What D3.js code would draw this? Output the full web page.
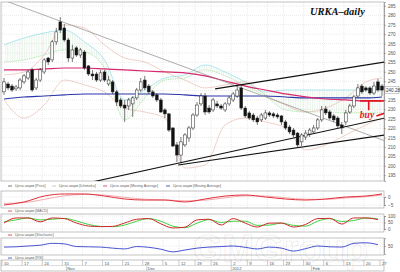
<!DOCTYPE html>
<html>
<head>
<meta charset="utf-8">
<script src="https://cdn.jsdelivr.net/npm/d3@7"></script>
<style>
  body { margin: 0; background: #fff; }
  svg { display: block; font-family: "Liberation Sans", Arial, sans-serif; }
</style>
</head>
<body>
<div class="chartContainer"></div>
<script>
// daily candles, Oct 10 2011 .. end of Feb 2012
const open = [239.3, 243.5, 242.4, 240.9, 241.4, 244.6, 246.7, 251.0, 241.4, 245.6,
  249.9, 257.3, 256.3, 265.9, 276.5, 273.3, 266.9, 257.3, 262.7, 258.9,
  260.5, 253.1, 248.8, 248.8, 245.6, 249.9, 243.5, 244.6, 239.3, 235.0,
  232.3, 231.8, 232.9, 236.1, 240.3, 245.6, 242.4, 239.3, 237.7, 235.0,
  229.7, 227.6, 220.1, 211.1, 205.7, 211.1, 214.8, 220.1, 227.0, 232.9,
  237.1, 230.7, 229.7, 232.9, 231.8, 229.7, 232.9, 235.0, 237.1, 241.4,
  230.7, 228.1, 227.0, 225.4, 224.4, 225.4, 228.1, 227.6, 227.0, 226.5,
  223.3, 220.6, 219.0, 217.4, 212.7, 215.3, 216.9, 218.0, 220.1, 224.4,
  230.2, 228.6, 226.5, 225.4, 221.7, 223.3, 228.6, 231.8, 237.1, 242.4,
  241.4, 241.4, 238.7, 244.6, 242.4];
const high = [246.7, 244.6, 243.5, 243.0, 246.7, 248.8, 251.0, 252.0, 246.7, 252.0,
  257.3, 257.9, 266.9, 273.3, 279.1, 275.4, 268.0, 264.3, 263.7, 262.7,
  261.6, 253.6, 251.0, 249.9, 251.0, 251.0, 247.8, 245.6, 240.3, 236.1,
  235.0, 236.1, 237.1, 241.4, 246.7, 247.8, 243.5, 240.3, 238.7, 236.1,
  230.7, 228.1, 220.6, 212.7, 215.3, 217.4, 221.2, 228.1, 233.9, 238.7,
  238.7, 232.3, 236.1, 234.5, 232.9, 233.9, 237.1, 239.3, 242.4, 243.5,
  231.8, 229.1, 228.1, 226.5, 228.1, 229.7, 229.1, 228.6, 228.1, 227.0,
  224.4, 221.7, 220.1, 218.0, 217.4, 219.0, 220.1, 221.7, 225.4, 231.8,
  231.8, 229.7, 227.6, 226.5, 223.3, 229.7, 232.9, 237.7, 243.5, 243.5,
  242.4, 242.4, 244.6, 246.2, 243.5];
const low = [237.7, 240.3, 239.3, 239.8, 240.3, 243.5, 245.6, 239.3, 240.3, 244.6,
  248.8, 253.6, 255.2, 264.3, 270.6, 265.9, 255.2, 255.2, 257.9, 257.3,
  251.0, 247.8, 245.6, 244.6, 244.6, 244.6, 242.4, 238.2, 231.8, 230.7,
  223.3, 229.7, 226.0, 235.0, 239.3, 240.3, 238.2, 236.1, 233.9, 228.1,
  225.4, 218.0, 210.0, 202.0, 201.5, 210.0, 212.7, 219.0, 226.0, 231.8,
  227.0, 227.6, 228.6, 230.7, 229.7, 228.6, 231.8, 233.9, 236.1, 229.7,
  225.4, 224.4, 223.3, 221.7, 223.3, 224.4, 226.0, 225.4, 224.9, 221.7,
  219.0, 216.9, 215.3, 210.0, 210.5, 213.7, 215.3, 216.9, 219.0, 223.3,
  227.0, 224.4, 223.3, 220.1, 216.9, 221.7, 227.6, 230.7, 236.1, 238.2,
  239.3, 237.7, 237.7, 239.3, 237.1];
const close = [244.6, 241.4, 240.3, 241.9, 245.6, 247.8, 249.9, 240.3, 245.6, 251.0,
  256.3, 255.2, 265.9, 271.2, 272.2, 266.9, 257.3, 261.6, 258.9, 261.6,
  252.0, 248.8, 247.8, 245.6, 249.4, 245.6, 245.6, 239.3, 233.9, 231.8,
  230.7, 235.0, 236.1, 240.3, 244.6, 241.4, 239.3, 237.1, 235.0, 228.6,
  227.6, 219.0, 210.5, 205.7, 212.7, 216.4, 220.1, 227.0, 232.3, 237.1,
  228.6, 228.6, 235.0, 231.8, 230.7, 232.9, 236.1, 238.2, 240.3, 230.7,
  226.5, 225.4, 224.4, 223.3, 227.0, 228.1, 227.0, 226.5, 226.0, 223.3,
  220.1, 218.0, 216.4, 211.1, 216.4, 217.4, 219.0, 220.1, 224.4, 229.7,
  228.1, 225.4, 224.4, 221.2, 220.1, 228.1, 231.8, 236.6, 241.4, 239.3,
  240.3, 238.7, 242.4, 240.3, 240.28];

const weekLabels = ["10", "17", "24", "31", "7", "14", "21", "28", "5", "12", "19",
  "26", "2", "9", "16", "23", "30", "6", "13", "20", "27"];
const weekStart = [0, 5, 10, 15, 20, 25, 30, 35, 40, 44, 48, 52, 57, 61, 66, 70, 75, 80, 85, 90, 94];
const monthLabels = ["Nov", "Dec", "2012", "Feb"];
const monthStart = [16, 36, 57, 77];
const priceTicks = [195, 200, 205, 210, 215, 220, 225, 230, 235, 240, 245, 250, 255, 260, 265, 270, 275, 280, 285];

// overlay lines, sampled every 5 days
const lineIdx = [0, 5, 10, 15, 20, 25, 30, 35, 40, 45, 50, 55, 60, 65, 70, 75, 80, 85, 90, 94];
const maSlow = [251.0, 251.0, 251.5, 252.0, 252.0, 251.5, 251.0, 250.4, 249.9, 249.4,
  247.8, 245.1, 242.4, 240.3, 238.2, 236.6, 235.5, 235.0, 234.5, 234.5];
const maFast = [235.5, 236.6, 237.1, 237.7, 238.2, 238.2, 238.2, 238.2, 238.2, 237.7,
  237.1, 237.1, 237.1, 237.1, 236.6, 236.1, 236.1, 236.1, 236.1, 236.6];
const spanA = [264.3, 268.0, 270.6, 272.2, 265.9, 256.3, 235.0, 240.3, 246.7, 248.3,
  253.6, 249.9, 244.6, 239.3, 240.3, 240.3, 240.3, 240.3, 240.3, 240.3];
const spanB = [255.2, 256.3, 258.9, 261.6, 260.5, 252.0, 224.4, 236.1, 245.6, 246.7,
  251.0, 247.8, 242.4, 237.1, 229.7, 228.6, 228.6, 228.1, 228.1, 228.1];
const bbUpper = [248.3, 249.9, 258.9, 274.9, 273.3, 264.3, 257.3, 255.2, 249.9, 245.6,
  241.4, 243.0, 244.6, 237.7, 232.3, 228.6, 230.7, 236.1, 244.6, 246.7];
const bbLower = [235.0, 225.4, 232.3, 245.6, 243.0, 239.3, 230.7, 228.6, 225.4, 198.8,
  200.4, 221.7, 225.4, 223.3, 220.1, 208.4, 211.1, 216.4, 221.7, 225.4];
const macd = [-5, -3.1, 0.6, 1.9, 1.9, 0.6, -1.25, -1.9, -1.9, -3.1,
  -1.25, 0.6, 1.25, 0, -1.25, -1.9, -1.25, 0, 0.6, 1.9];
const macdSignal = [-4, -3.5, -1.5, 0.8, 1.6, 1.2, -0.2, -1.4, -1.8, -2.4,
  -2, -0.5, 0.7, 0.6, -0.5, -1.4, -1.5, -0.6, 0.2, 1.2];

// oscillators, sampled every 3 days
const oscIdx = [0, 3, 6, 9, 12, 15, 18, 21, 24, 27, 30, 33, 36, 39, 42, 45,
  48, 51, 54, 57, 60, 63, 66, 69, 72, 75, 78, 81, 84, 87, 90, 93];
const stochK = [46, 85, 85, 55, 85, 80, 46, 23, 18, 20, 46, 75, 80, 40, 8, 14,
  70, 75, 31, 80, 45, 15, 45, 46, 15, 35, 80, 82, 38, 85, 85, 72];
const stochD = [55, 70, 85, 70, 75, 82, 62, 35, 20, 18, 30, 60, 80, 60, 22, 10,
  45, 72, 50, 60, 60, 28, 30, 45, 28, 22, 60, 80, 58, 65, 85, 78];
const rsi = [46, 47, 50, 53, 60, 58, 48, 47, 46, 42, 39, 48, 45, 38, 28, 35,
  42, 46, 48, 50, 45, 39, 46, 42, 31, 40, 50, 47, 46, 60, 62, 55];

// hand drawn lines: [day1, price1, day2, price2]
const trendGray = [[-0.25, 288.2, 94.75, 213.2]];
const trendBlack = [[52.5, 240.9, 94.75, 255.2], [20.9, 190.9, 94.75, 225.4], [43.3, 200.4, 94.75, 216.4]];
const buyMarks = [[88.5, 234.5, 94.75, 234.5], [90.7, 234.8, 90.7, 229.5], [92.6, 226.5, 94.75, 228.1]];

const legendMain = [["Цена акции [Price]", "#555"], ["Цена акции [Ichimoku]", "#bbb"],
  ["Цена акции [Moving Average]", "#d6286e"], ["Цена акции [Moving Average]", "#2a35a8"]];

window.addEventListener("load", () => {
  drawChart();
});

function drawChart() {
  const width = 400, height = 272;
  const left = 2, right = 384;
  const main = { top: 2, bottom: 181 };
  const pMacd = { top: 191, bottom: 208 };
  const pSto = { top: 214, bottom: 232 };
  const pRsi = { top: 238, bottom: 255 };

  const svg = d3.select(".chartContainer")
    .append("svg")
    .attr("width", width)
    .attr("height", height);

  const n = close.length;
  const x = d3.scaleLinear().domain([-0.5, n - 0.5]).range([left, right]);
  const y = d3.scaleLinear().domain([191.9, 287.1]).range([main.bottom, main.top]);
  const yMacd = d3.scaleLinear().domain([-5, 0]).range([205, 197]);
  const ySto = d3.scaleLinear().domain([0, 100]).range([229, 216]);
  const yRsi = d3.scaleLinear().domain([20, 80]).range([254, 238]);

  const defs = svg.append("defs");
  [["clipMain", main], ["clipMacd", pMacd], ["clipSto", pSto], ["clipRsi", pRsi]].forEach(([id, p]) => {
    defs.append("clipPath").attr("id", id)
      .append("rect").attr("x", left).attr("y", p.top)
      .attr("width", right - left).attr("height", p.bottom - p.top);
  });
  const hatch = defs.append("pattern").attr("id", "hatch")
    .attr("patternUnits", "userSpaceOnUse").attr("width", 2.4).attr("height", 4);
  hatch.append("line").attr("x1", 0.6).attr("x2", 0.6).attr("y1", 0).attr("y2", 4)
    .attr("stroke", "#d3e8d3").attr("stroke-width", 0.6);

  const weekX = weekStart.map(i => x(i) - 2);

  // panel frames + grid
  function panel(p, yTicks, yScale) {
    svg.append("g").selectAll("line").data(weekX).enter().append("line")
      .attr("x1", d => d).attr("x2", d => d)
      .attr("y1", p.top).attr("y2", p.bottom)
      .attr("stroke", "#d4d4d4").attr("stroke-width", 0.5).attr("stroke-dasharray", "1,1");
    svg.append("g").selectAll("line").data(yTicks).enter().append("line")
      .attr("x1", left).attr("x2", right)
      .attr("y1", d => yScale(d)).attr("y2", d => yScale(d))
      .attr("stroke", "#d4d4d4").attr("stroke-width", 0.5).attr("stroke-dasharray", "1,1");
    svg.append("rect").attr("x", left - 1).attr("y", p.top)
      .attr("width", right - left + 1).attr("height", p.bottom - p.top)
      .attr("fill", "none").attr("stroke", "#9a9a9a").attr("stroke-width", 0.6);
    const ax = svg.append("g").attr("transform", "translate(" + right + ",0)")
      .call(d3.axisRight(yScale).tickValues(yTicks).tickFormat(d3.format("d")).tickSize(2).tickPadding(2));
    ax.select(".domain").attr("stroke", "#777").attr("stroke-width", 0.6);
    ax.selectAll("line").attr("stroke", "#777").attr("stroke-width", 0.5);
    ax.selectAll("text").attr("font-size", 4.6).attr("fill", "#555");
  }
  panel(main, priceTicks, y);
  panel(pMacd, [0, -5], yMacd);
  panel(pSto, [0, 50, 100], ySto);
  panel(pRsi, [50], yRsi);

  const gMain = svg.append("g").attr("clip-path", "url(#clipMain)");

  // ichimoku cloud
  const cloud = lineIdx.map((d, k) => ({ i: d, a: spanA[k], b: spanB[k] }));
  gMain.append("path").datum(cloud)
    .attr("d", d3.area().x(d => x(d.i)).y0(d => y(d.a)).y1(d => y(d.b)).curve(d3.curveMonotoneX))
    .attr("fill", "url(#hatch)");
  const line = (vals, ys) => d3.line().x((d, k) => x(lineIdx[k])).y(d => ys(d)).curve(d3.curveMonotoneX)(vals);
  gMain.append("path").attr("d", line(spanA, y)).attr("fill", "none")
    .attr("stroke", "#8fdcec").attr("stroke-width", 0.7);
  gMain.append("path").attr("d", line(spanB, y)).attr("fill", "none")
    .attr("stroke", "#9ee09e").attr("stroke-width", 0.7).attr("stroke-dasharray", "1.5,0.8");

  // bollinger
  [bbUpper, bbLower].forEach(v => {
    gMain.append("path").attr("d", line(v, y)).attr("fill", "none")
      .attr("stroke", "#e2b2a6").attr("stroke-width", 0.6);
  });

  // moving averages
  gMain.append("path").attr("d", line(maFast, y)).attr("fill", "none")
    .attr("stroke", "#2a35a8").attr("stroke-width", 1.1);
  gMain.append("path").attr("d", line(maSlow, y)).attr("fill", "none")
    .attr("stroke", "#d6286e").attr("stroke-width", 1.2);

  // trend lines
  gMain.selectAll(".tg").data(trendGray).enter().append("line")
    .attr("x1", d => x(d[0])).attr("y1", d => y(d[1]))
    .attr("x2", d => x(d[2])).attr("y2", d => y(d[3]))
    .attr("stroke", "#8a8a8a").attr("stroke-width", 0.7);
  gMain.selectAll(".tb").data(trendBlack).enter().append("line")
    .attr("x1", d => x(d[0])).attr("y1", d => y(d[1]))
    .attr("x2", d => x(d[2])).attr("y2", d => y(d[3]))
    .attr("stroke", "#111").attr("stroke-width", 1.1);

  // candles
  const candles = close.map((c, i) => ({ i: i, o: open[i], h: high[i], l: low[i], c: c }));
  const cg = gMain.append("g").selectAll("g").data(candles).enter().append("g");
  cg.append("line")
    .attr("x1", d => x(d.i)).attr("x2", d => x(d.i))
    .attr("y1", d => y(d.h)).attr("y2", d => y(d.l))
    .attr("stroke", "#222").attr("stroke-width", 0.6);
  cg.append("rect")
    .attr("x", d => x(d.i) - 1.4).attr("width", 2.8)
    .attr("y", d => y(Math.max(d.o, d.c)))
    .attr("height", d => Math.max(0.8, Math.abs(y(d.o) - y(d.c))))
    .attr("fill", d => d.c >= d.o ? "#fff" : "#111")
    .attr("stroke", "#222").attr("stroke-width", 0.5);

  // buy marks
  gMain.selectAll(".bm").data(buyMarks).enter().append("line")
    .attr("x1", d => x(d[0])).attr("y1", d => y(d[1]))
    .attr("x2", d => x(d[2])).attr("y2", d => y(d[3]))
    .attr("stroke", "#e3141c").attr("stroke-width", 1.6);
  svg.append("text").attr("x", x(88.5)).attr("y", y(225.6))
    .attr("font-family", "Liberation Serif, serif").attr("font-style", "italic")
    .attr("font-weight", "bold").attr("font-size", 9.5).attr("fill", "#e3141c").text("buy");

  // title
  svg.append("text").attr("x", 310).attr("y", 15)
    .attr("font-family", "Liberation Serif, serif").attr("font-style", "italic")
    .attr("font-weight", "bold").attr("font-size", 10.5).attr("fill", "#111").text("URKA–daily");

  // last price box
  const last = close[n - 1];
  svg.append("rect").attr("x", right + 1).attr("y", y(last) - 3.3)
    .attr("width", 14).attr("height", 6.6)
    .attr("fill", "#fff").attr("stroke", "#999").attr("stroke-width", 0.5);
  svg.append("text").attr("x", right + 2).attr("y", y(last) + 1.6)
    .attr("font-size", 4.6).attr("fill", "#333").text(last.toFixed(2));

  // MACD
  const gM = svg.append("g").attr("clip-path", "url(#clipMacd)");
  gM.append("path").attr("d", line(macdSignal, yMacd)).attr("fill", "none")
    .attr("stroke", "#f2a0a8").attr("stroke-width", 0.9);
  gM.append("path").attr("d", line(macd, yMacd)).attr("fill", "none")
    .attr("stroke", "#e0303a").attr("stroke-width", 1);

  // stochastic / rsi
  const oscLine = (vals, ys) => d3.line().x((d, k) => x(oscIdx[k])).y(d => ys(d)).curve(d3.curveMonotoneX)(vals);
  const gS = svg.append("g").attr("clip-path", "url(#clipSto)");
  gS.append("path").attr("d", oscLine(stochD, ySto)).attr("fill", "none")
    .attr("stroke", "#3fd23f").attr("stroke-width", 1);
  gS.append("path").attr("d", oscLine(stochK, ySto)).attr("fill", "none")
    .attr("stroke", "#d0282c").attr("stroke-width", 1);
  const gR = svg.append("g").attr("clip-path", "url(#clipRsi)");
  gR.append("path").attr("d", oscLine(rsi, yRsi)).attr("fill", "none")
    .attr("stroke", "#3340cc").attr("stroke-width", 0.9);

  // legends
  const lgX = [8, 52, 103, 166];
  legendMain.forEach((d, k) => {
    svg.append("line").attr("x1", lgX[k]).attr("x2", lgX[k] + 4).attr("y1", 186).attr("y2", 186)
      .attr("stroke", d[1]).attr("stroke-width", 0.8);
    svg.append("text").attr("x", lgX[k] + 7).attr("y", 187.3)
      .attr("font-size", 3.6).attr("fill", "#666").text(d[0]);
  });
  [["Цена акции [MACD]", "#e0303a", 211], ["Цена акции [Stochastic]", "#d0282c", 235],
   ["Цена акции [RSI]", "#3340cc", 258]].forEach(d => {
    svg.append("line").attr("x1", 8).attr("x2", 12).attr("y1", d[2]).attr("y2", d[2])
      .attr("stroke", d[1]).attr("stroke-width", 0.8);
    svg.append("text").attr("x", 15).attr("y", d[2] + 1.3)
      .attr("font-size", 3.6).attr("fill", "#666").text(d[0]);
  });

  // watermark
  svg.append("text").attr("x", 193).attr("y", 262)
    .attr("font-size", 38).attr("font-weight", "bold")
    .attr("fill", "none").attr("stroke", "#000").attr("stroke-opacity", 0.07)
    .attr("stroke-width", 1.2).text("GMGroup");

  // date axis
  const ax = svg.append("g");
  ax.append("rect").attr("x", left - 1).attr("y", 260).attr("width", right - left + 1).attr("height", 11)
    .attr("fill", "none").attr("stroke", "#9a9a9a").attr("stroke-width", 0.6);
  ax.append("line").attr("x1", left - 1).attr("x2", right).attr("y1", 265.5).attr("y2", 265.5)
    .attr("stroke", "#bbb").attr("stroke-width", 0.5);
  ax.selectAll(".wk").data(weekX).enter().append("line")
    .attr("x1", d => d).attr("x2", d => d).attr("y1", 260).attr("y2", 265.5)
    .attr("stroke", "#999").attr("stroke-width", 0.5);
  ax.selectAll(".wl").data(weekLabels).enter().append("text")
    .attr("x", (d, k) => weekX[k] + 2).attr("y", 264.5)
    .attr("font-size", 4.2).attr("fill", "#555").text(d => d);
  ax.selectAll(".mk").data(monthStart).enter().append("line")
    .attr("x1", d => x(d) - 2).attr("x2", d => x(d) - 2).attr("y1", 265.5).attr("y2", 271)
    .attr("stroke", "#999").attr("stroke-width", 0.5);
  ax.selectAll(".ml").data(monthLabels).enter().append("text")
    .attr("x", (d, k) => x(monthStart[k]) - 1).attr("y", 270)
    .attr("font-size", 4.2).attr("fill", "#555").text(d => d);
}
</script>
</body>
</html>
